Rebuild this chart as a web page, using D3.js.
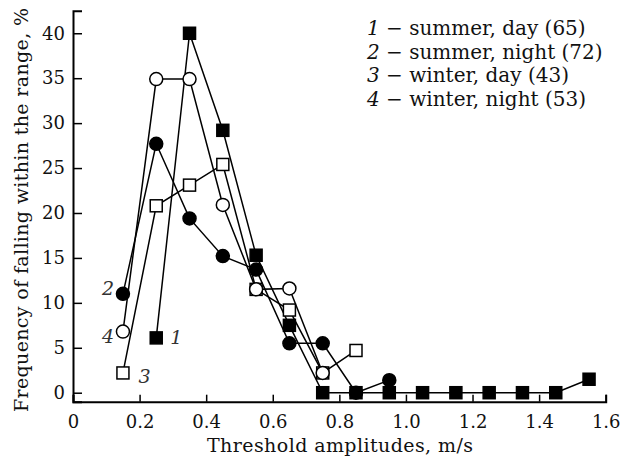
<!DOCTYPE html>
<html>
<head>
<meta charset="utf-8">
<script src="https://cdn.jsdelivr.net/npm/d3@7"></script>
<style>
  body { margin: 0; background: #fff; }
  svg text { font-family: "DejaVu Serif", serif; fill: #111; }
</style>
</head>
<body>
<svg id="chart" width="621" height="461"></svg>
<script>
// threshold amplitude bins (m/s)
var xs = [0.15, 0.25, 0.35, 0.45, 0.55, 0.65, 0.75, 0.85, 0.95, 1.05, 1.15, 1.25, 1.35, 1.45, 1.55];

// frequency, %
var summerDay   = [null, 6.1, 40, 29.2, 15.3, 7.5, 0, 0, 0, 0, 0, 0, 0, 0, 1.5];
var summerNight = [11.0, 27.7, 19.4, 15.2, 13.7, 5.5, 5.5, 0, 1.4];
var winterDay   = [2.2, 20.8, 23.1, 25.4, 11.5, 9.2, 2.2, 4.7];
var winterNight = [6.8, 34.9, 34.9, 20.9, 11.5, 11.6, 2.2];

var legendLabels = ["summer, day (65)", "summer, night (72)", "winter, day (43)", "winter, night (53)"];
var seriesNums = ["1", "2", "3", "4"];

var xTicks = [0, 0.2, 0.4, 0.6, 0.8, 1.0, 1.2, 1.4, 1.6];
var yTicks = [0, 5, 10, 15, 20, 25, 30, 35, 40];

var svg = d3.select("#chart");

var x = d3.scaleLinear().domain([0, 1.6]).range([73, 605.7]);
var y = d3.scaleLinear().domain([-1, 42.5]).range([401.7, 10.8]);

function pts(vals) {
  return vals.map(function(v, i) { return [xs[i], v]; })
    .filter(function(d) { return d[1] !== null; });
}

var series = [
  { data: pts(summerDay),   shape: "square", fill: "#000" },
  { data: pts(summerNight), shape: "circle", fill: "#000" },
  { data: pts(winterDay),   shape: "square", fill: "#fff" },
  { data: pts(winterNight), shape: "circle", fill: "#fff" }
];

// axes, ticks point inward
var xAxisMajor = d3.axisBottom(x).tickValues(xTicks).tickSize(-7);
var xAxisMinor = d3.axisBottom(x).tickValues(d3.range(0.1, 1.6, 0.2)).tickSize(-4).tickFormat("");
var yAxisMajor = d3.axisLeft(y).tickValues(yTicks).tickSize(-9).tickFormat(d3.format("d"));
var yAxisMinor = d3.axisLeft(y).tickValues(d3.range(2.5, 43, 5)).tickSize(-6).tickFormat("");

var gx = svg.append("g").attr("transform", "translate(0," + y(-1) + ")");
gx.call(xAxisMinor);
gx.call(xAxisMajor);
gx.selectAll("text").attr("y", 14).style("font-size", "18px")
  .text(function(d) { return d === 0 ? "0" : d3.format(".1f")(d); });

var gy = svg.append("g").attr("transform", "translate(" + x(0) + ",0)");
gy.call(yAxisMinor);
gy.call(yAxisMajor);
gy.selectAll("text").attr("x", -8).style("font-size", "18px");

svg.selectAll(".domain").attr("stroke", "#000").attr("stroke-width", 2);
svg.selectAll(".tick line").attr("stroke", "#000").attr("stroke-width", 1.5);

// axis titles
svg.append("text")
  .attr("x", 340).attr("y", 452)
  .attr("text-anchor", "middle")
  .attr("textLength", 266)
  .style("font-size", "19px")
  .text("Threshold amplitudes, m/s");

svg.append("text")
  .attr("transform", "translate(28,210) rotate(-90)")
  .attr("text-anchor", "middle")
  .attr("textLength", 404)
  .style("font-size", "19px")
  .text("Frequency of falling within the range, %");

// lines
var line = d3.line().x(function(d) { return x(d[0]); }).y(function(d) { return y(d[1]); });

svg.append("g").selectAll("path")
  .data(series)
  .enter().append("path")
  .attr("d", function(s) { return line(s.data); })
  .attr("fill", "none")
  .attr("stroke", "#000")
  .attr("stroke-width", 1.5);

// markers
series.forEach(function(s) {
  var g = svg.append("g");
  if (s.shape === "square") {
    g.selectAll("rect").data(s.data).enter().append("rect")
      .attr("x", function(d) { return x(d[0]) - 6; })
      .attr("y", function(d) { return y(d[1]) - 6; })
      .attr("width", 12).attr("height", 12)
      .attr("fill", s.fill).attr("stroke", "#000").attr("stroke-width", 1.5);
  } else {
    g.selectAll("circle").data(s.data).enter().append("circle")
      .attr("cx", function(d) { return x(d[0]); })
      .attr("cy", function(d) { return y(d[1]); })
      .attr("r", 6.5)
      .attr("fill", s.fill).attr("stroke", "#000").attr("stroke-width", 1.5);
  }
});

// series numbers next to their first points
var numPos = [[0.31, 6.1], [0.105, 11.5], [0.215, 1.8], [0.105, 6.2]];
svg.append("g").selectAll("text")
  .data(numPos)
  .enter().append("text")
  .attr("x", function(d) { return x(d[0]); })
  .attr("y", function(d) { return y(d[1]) + 6; })
  .attr("text-anchor", "middle")
  .style("font-size", "19px")
  .style("font-style", "italic")
  .style("fill", "#333")
  .text(function(d, i) { return seriesNums[i]; });

// legend
var leg = svg.append("g").selectAll("text")
  .data(legendLabels)
  .enter().append("text")
  .attr("x", 367)
  .attr("y", function(d, i) { return 35 + i * 23.5; })
  .style("font-size", "20px");
leg.append("tspan").style("font-style", "italic").text(function(d, i) { return seriesNums[i]; });
leg.append("tspan").text(function(d) { return " − " + d; });
</script>
</body>
</html>
